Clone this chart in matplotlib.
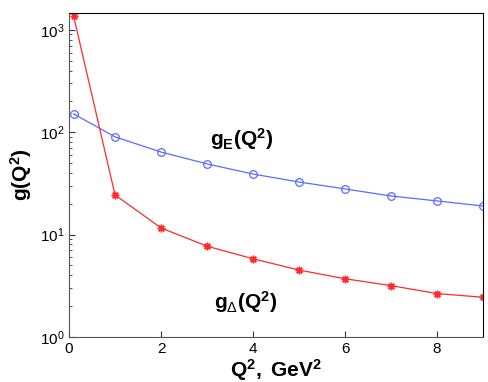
import numpy as np
import matplotlib
matplotlib.use("Agg")
import matplotlib.pyplot as plt

plt.rcParams['font.family'] = ['Liberation Sans', 'DejaVu Sans']
plt.rcParams['mathtext.fontset'] = 'custom'
plt.rcParams['mathtext.rm'] = 'Liberation Sans'
plt.rcParams['mathtext.bf'] = 'Liberation Sans:bold'
plt.rcParams['mathtext.it'] = 'Liberation Sans:italic'

# data
q2 = [0.1, 1, 2, 3, 4, 5, 6, 7, 8, 9]
g_e = [151, 90, 64, 49, 39, 32.6, 27.9, 23.8, 21.3, 19.0]
g_delta = [1364, 24.4, 11.6, 7.7, 5.8, 4.5, 3.7, 3.17, 2.65, 2.44]

fig = plt.figure(figsize=(4.88, 3.82), dpi=100)
ax = fig.add_axes([0.1414, 0.118, 0.8486, 0.848])

ax.semilogy(q2, g_e, '-o', color='#5a6cff', lw=0.9, ms=5.5, mfc='none', mew=0.9)
ax.semilogy(q2, g_delta, '-', color='#ff2a2a', lw=0.9,
            marker=(8, 2, 0), ms=5.5, mew=1.0)

ax.set_xlim(0, 9)
ax.set_ylim(1, 1460)
ax.set_xticks([0, 2, 4, 6, 8])
ax.tick_params(which='both', direction='in', labelsize=11, colors='#333333')
ax.tick_params(which='major', length=4)
ax.tick_params(which='minor', length=2.5)
for lbl in ax.get_xticklabels() + ax.get_yticklabels():
    lbl.set_color('black')
for s in ['left', 'bottom']:
    ax.spines[s].set_color('#555555')
for s in ['top', 'right']:
    ax.spines[s].set_color('black')

ax.set_xlabel(r'$\mathbf{Q^2,}$ $\mathbf{GeV^2}$', fontsize=15, labelpad=1)
ax.set_ylabel(r'$\mathbf{g(Q^2)}$', fontsize=15, labelpad=4)

ax.text(3.75, 86, r'$\mathbf{g_E(Q^2)}$', fontsize=15, ha='center', va='center')
ax.text(3.85, 2.2, r'$\mathbf{g}_\Delta\mathbf{(Q^2)}$', fontsize=15, ha='center', va='center')

fig.savefig("out.png", dpi=100)
